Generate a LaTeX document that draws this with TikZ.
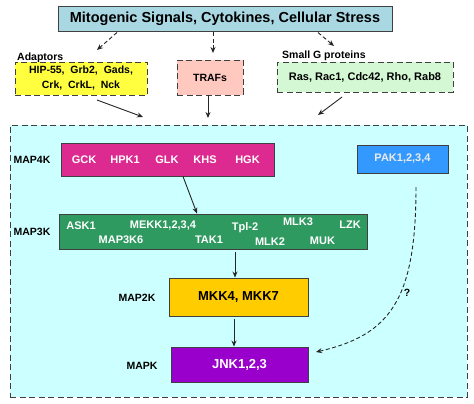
\documentclass[tikz,border=0pt]{standalone}
\usepackage{fontspec}
\setmainfont{Liberation Sans}
\usetikzlibrary{arrows.meta}
\definecolor{topfill}{HTML}{A9D8E3}
\definecolor{adfill}{HTML}{FFFF40}
\definecolor{trfill}{HTML}{FFC9C0}
\definecolor{sgfill}{HTML}{D4F7D4}
\definecolor{bigfill}{HTML}{CCFFFF}
\definecolor{magfill}{HTML}{DD2A90}
\definecolor{pakfill}{HTML}{3399FF}
\definecolor{grnfill}{HTML}{2E9A60}
\definecolor{goldfill}{HTML}{FFCC00}
\definecolor{purfill}{HTML}{9900CC}
\definecolor{edge}{HTML}{404040}
\tikzset{
  box/.style={draw=edge, line width=0.9pt, inner sep=0pt, align=center},
  dbox/.style={box, dashed, dash pattern=on 6pt off 3.5pt},
  lab/.style={font=\fontsize{10.5}{12}\selectfont\bfseries, text=black, inner sep=0pt},
  wtxt/.style={font=\fontsize{11}{12}\selectfont\bfseries, text=white, inner sep=0pt},
  arr/.style={-{Stealth[length=6pt,width=5pt]}, line width=0.9pt, draw=black!85},
  darr/.style={arr, dashed, dash pattern=on 4pt off 2.5pt},
}
\begin{document}
\begin{tikzpicture}[x=1pt,y=-1pt]
\useasboundingbox[fill=white] (0,0) rectangle (474,404);
% big container
\node[dbox, fill=bigfill, minimum width=457pt, minimum height=272pt] (big) at (238.5,261) {};
% top
\node[box, fill=topfill, minimum width=334pt, minimum height=25pt,
      font=\fontsize{14.5}{16}\selectfont\bfseries] (top) at (225,19) {Mitogenic Signals, Cytokines, Cellular Stress};
% adaptors
\node[lab, anchor=west] (adlab) at (17,57.5) {Adaptors};
\node[dbox, fill=adfill, minimum width=132pt, minimum height=33pt,
      font=\fontsize{10.5}{15}\selectfont\bfseries] (adapt) at (81,78.5) {HIP-55,\ \ Grb2,\ \ Gads,\\Crk,\ \ CrkL,\ \ Nck};
% TRAFs
\node[dbox, fill=trfill, minimum width=66pt, minimum height=35pt,
      font=\fontsize{10.5}{12}\selectfont\bfseries] (traf) at (210,77.5) {TRAFs};
% small G
\node[lab, anchor=west] (sglab) at (282,55.5) {Small G proteins};
\node[dbox, fill=sgfill, minimum width=176pt, minimum height=30pt,
      font=\fontsize{11}{12}\selectfont\bfseries] (smallg) at (365,77) {Ras, Rac1, Cdc42, Rho, Rab8};
% arrows from top
\coordinate (t1) at (117,32.5);
\coordinate (t2) at (213,32.5);
\coordinate (t3) at (318,32.5);
\coordinate (e1) at (97,50);
\coordinate (e2) at (213,53);
\coordinate (e3) at (334,46);
\draw[darr] (t1) -- (e1);
\draw[darr] (t2) -- (e2);
\draw[darr] (t3) -- (e3);
% arrows into big box
\coordinate (a1) at (97,100);
\coordinate (b1) at (143,117);
\coordinate (a2) at (208,95);
\coordinate (b2) at (208,118);
\coordinate (a3) at (342,97);
\coordinate (b3) at (318,115);
\draw[arr] (a1) -- (b1);
\draw[arr] (a2) -- (b2);
\draw[arr] (a3) -- (b3);
% MAP4K
\node[lab] (l4) at (32,160) {MAP4K};
\node[box, fill=magfill, minimum width=213pt, minimum height=33pt] (map4k) at (167.5,159.5) {};
\node[wtxt] (gck) at (84,160) {GCK};
\node[wtxt] (hpk) at (125,160) {HPK1};
\node[wtxt] (glk) at (167,160) {GLK};
\node[wtxt] (khs) at (205,160) {KHS};
\node[wtxt] (hgk) at (247.5,160) {HGK};
% PAK
\node[box, fill=pakfill, minimum width=91pt, minimum height=28pt, text=black!8,
      font=\fontsize{11}{12}\selectfont\bfseries] (pak) at (402.5,159) {PAK1,2,3,4};
% MAP3K
\node[lab] (l3) at (32,232) {MAP3K};
\node[box, fill=grnfill, minimum width=308pt, minimum height=35pt] (map3k) at (213,231.5) {};
\node[wtxt] (ask) at (81,226) {ASK1};
\node[wtxt] (mekk) at (163,226) {MEKK1,2,3,4};
\node[wtxt] (tpl) at (245,228) {Tpl-2};
\node[wtxt] (mlk3) at (298,222) {MLK3};
\node[wtxt] (lzk) at (350,225) {LZK};
\node[wtxt] (m3k6) at (121,240) {MAP3K6};
\node[wtxt] (tak) at (209,240) {TAK1};
\node[wtxt] (mlk2) at (270,242) {MLK2};
\node[wtxt] (muk) at (322.5,241) {MUK};
% MAP2K
\node[lab] (l2) at (137,298) {MAP2K};
\node[box, fill=goldfill, minimum width=139pt, minimum height=38pt,
      font=\fontsize{13}{14}\selectfont\bfseries] (mkk) at (238.5,297) {MKK4, MKK7};
% MAPK
\node[lab] (l1) at (142,366) {MAPK};
\node[box, fill=purfill, minimum width=137pt, minimum height=35pt, text=white,
      font=\fontsize{13}{14}\selectfont\bfseries] (jnk) at (239.5,364.5) {JNK1,2,3};
% cascade arrows
\draw[arr] (map4k.south -| 183,0) -- (map3k.north -| 197,0);
\draw[arr] (map3k.south -| 235,0) ++(0,3) -- (mkk.north -| 235,0);
\draw[arr] (mkk.south -| 234,0) ++(0,3) -- (jnk.north -| 234,0);
% PAK dashed curve
\coordinate (ps) at (416,187);
\coordinate (pe) at (316,352);
\draw[darr] (ps) .. controls (416,300) and (390,335) .. (pe);
\node[lab] (q) at (407,293) {?};
\end{tikzpicture}
\end{document}
